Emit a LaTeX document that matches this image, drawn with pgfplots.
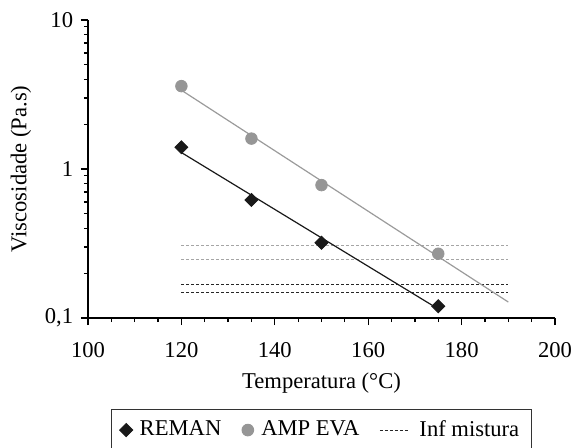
\documentclass[border=0pt]{standalone}
\usepackage{fontspec}
\setmainfont{Liberation Serif}
\usepackage{pgfplots}
\pgfplotsset{compat=1.18}
\definecolor{markgray}{RGB}{150,150,150}
\definecolor{linegray}{RGB}{155,155,155}
\definecolor{dotgray}{RGB}{165,165,165}
\definecolor{markblack}{RGB}{25,25,25}
\pgfplotsset{
  shortline/.style={legend image code/.code={\draw[##1] (0pt,0pt) -- (15pt,0pt); \path (17.5pt,0pt);}},
  markonly/.style={legend image code/.code={\draw[##1] plot coordinates {(0pt,0pt)}; \path (-3pt,0pt) (4.5pt,0pt);}},
}
\begin{document}
\fontsize{11.3}{13.5}\selectfont
\begin{tikzpicture}
\begin{semilogyaxis}[
    scale only axis,
    width=233.5pt, height=149pt,
    xmin=100, xmax=200,
    ymin=0.1, ymax=10,
    axis x line=bottom, axis y line=left,
    axis line style={-, line width=0.6pt},
    tick align=outside,
    tick style={black, line width=0.6pt},
    major tick length=3.5pt,
    minor tick length=2pt,
    xtick={100,120,140,160,180,200},
    xticklabels={100,120,140,160,180,200},
    xticklabel style={yshift=-5pt},
    minor x tick num=3,
    ytick={0.1,1,10},
    yticklabels={{0,1},1,10},
    xlabel={Temperatura (°C)},
    ylabel={Viscosidade (Pa.s)},
    xlabel style={at={(axis description cs:0.5,-0.218)}, anchor=center},
    ylabel style={at={(axis description cs:-0.1435,0.5)}, anchor=center},
    clip=false,
    legend style={at={(0.5,-0.376)}, anchor=center, legend columns=3,
        draw=black!80, line width=0.5pt, inner xsep=4pt, inner ysep=3.5pt,
        /tikz/every even column/.append style={column sep=8pt},
        font=\fontsize{11.3}{13.5}\selectfont},
    legend cell align=left,
]
\addplot[only marks, mark=square*, mark size=2.3pt, mark options={rotate=45}, color=markblack, markonly]
coordinates {(120,1.4) (135,0.62) (150,0.32) (175,0.12)};
\addlegendentry{REMAN}
\addplot[only marks, mark=*, mark size=2.9pt, color=markgray, markonly]
coordinates {(120,3.6) (135,1.6) (150,0.78) (175,0.27)};
\addlegendentry{AMP EVA}
\addplot[black!85, line width=0.5pt, dash pattern=on 1.5pt off 1pt, shortline]
coordinates {(120,0.167) (190,0.167)};
\addlegendentry{Inf mistura}
\addplot[black!85, line width=0.5pt, dash pattern=on 1.5pt off 1pt, forget plot]
coordinates {(120,0.148) (190,0.148)};
\addplot[dotgray, line width=0.5pt, dash pattern=on 1.5pt off 1pt, forget plot]
coordinates {(120,0.306) (190,0.306)};
\addplot[dotgray, line width=0.5pt, dash pattern=on 1.5pt off 1pt, forget plot]
coordinates {(120,0.246) (190,0.246)};
\addplot[markblack, line width=0.6pt, forget plot]
coordinates {(120,1.29) (175,0.115)};
\addplot[linegray, line width=0.6pt, forget plot]
coordinates {(120,3.38) (190,0.128)};
\end{semilogyaxis}
\pgfresetboundingbox
\path[use as bounding box] (-44pt,-64.5pt) rectangle (242.5pt,159pt);
\end{tikzpicture}
\end{document}
